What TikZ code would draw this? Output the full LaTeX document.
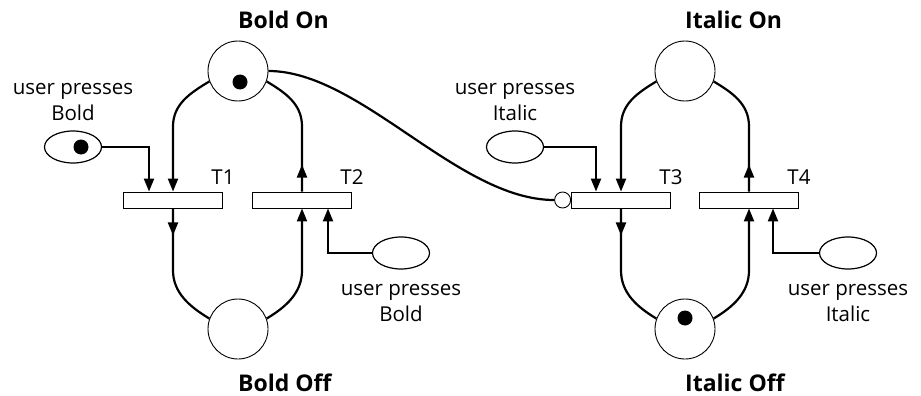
\documentclass[tikz,border=0pt]{standalone}
\usepackage{fontspec}
\setmainfont{Open Sans}
\usepackage{tikz}
\usetikzlibrary{arrows.meta,positioning,shapes.geometric,decorations.markings}

\begin{document}
\begin{tikzpicture}[x=1pt,y=-1pt,
  font=\fontsize{20.5}{26}\selectfont,
  place/.style={circle,draw,line width=0.9pt,minimum size=60pt,inner sep=0pt},
  trans/.style={rectangle,draw,line width=0.9pt,minimum width=99pt,minimum height=16pt,inner sep=0pt},
  event/.style={ellipse,draw,line width=1.2pt,minimum width=57pt,minimum height=32pt,inner sep=0pt},
  inhib/.style={circle,draw,fill=white,line width=0.9pt,minimum size=16pt,inner sep=0pt},
  arc/.style={line width=2.2pt},
  inarc/.style={arc,-{Triangle[length=13pt,width=10pt]}},
  outarc/.style={arc,postaction={decorate},decoration={markings,
    mark=at position 27pt with {\arrow{Triangle[length=13pt,width=10pt]}}}},
  plabel/.style={font=\fontsize{23}{26}\selectfont\bfseries,inner sep=0pt,anchor=west},
  tlabel/.style={inner sep=0pt,anchor=base},
  ulabel/.style={align=center,inner sep=0pt}]

\useasboundingbox (0,0) rectangle (921,396);

\node[place] (bon) at (238,71) {};
\node[place] (boff) at (238,329) {};
\node[place] (ion) at (685,71) {};
\node[place] (ioff) at (685,329) {};

\node[trans] (t1) at (173,200) {};
\node[trans] (t2) at (302,200) {};
\node[trans] (t3) at (621,200) {};
\node[trans] (t4) at (749,200) {};
\node[inhib, left=0pt of t3] (inh) {};

\node[event] (eb1) at (73,147) {};
\node[event] (eb2) at (401,253) {};
\node[event] (ei1) at (515,147) {};
\node[event] (ei2) at (848,253) {};

\fill ([shift={(2,11)}]bon.center) circle (7.5pt);
\fill ([shift={(0,-11)}]ioff.center) circle (7.5pt);
\fill ([xshift=8pt]eb1.center) circle (7.5pt);

\node[plabel] at ([yshift=21pt]bon.north) {Bold On};
\node[plabel] at ([yshift=-23pt]boff.south) {Bold Off};
\node[plabel] at ([yshift=21pt]ion.north) {Italic On};
\node[plabel] at ([yshift=-23pt]ioff.south) {Italic Off};

\node[tlabel] at ([yshift=7pt]t1.north east) {T1};
\node[tlabel] at ([yshift=7pt]t2.north east) {T2};
\node[tlabel] at ([yshift=7pt]t3.north east) {T3};
\node[tlabel] at ([yshift=7pt]t4.north east) {T4};

\node[ulabel] at ([yshift=45pt]eb1.center) {user presses\\Bold};
\node[ulabel] at ([yshift=-50pt]eb2.center) {user presses\\Bold};
\node[ulabel] at ([yshift=45pt]ei1.center) {user presses\\Italic};
\node[ulabel] at ([yshift=-50pt]ei2.center) {user presses\\Italic};

\draw[inarc] (bon.200) .. controls +(-20,12) and +(0,-22) .. ([yshift=65pt]t1.north) -- (t1.north);
\draw[outarc] (t2.north) -- ([yshift=65pt]t2.north) .. controls +(0,-22) and +(20,12) .. (bon.-20);
\draw[outarc] (t1.south) -- ([yshift=-62pt]t1.south) .. controls +(0,22) and +(-20,-12) .. (boff.160);
\draw[inarc] (boff.20) .. controls +(20,-12) and +(0,22) .. ([yshift=-62pt]t2.south) -- (t2.south);

\draw[inarc] (ion.200) .. controls +(-20,12) and +(0,-22) .. ([yshift=65pt]t3.north) -- (t3.north);
\draw[outarc] (t4.north) -- ([yshift=65pt]t4.north) .. controls +(0,-22) and +(20,12) .. (ion.-20);
\draw[outarc] (t3.south) -- ([yshift=-62pt]t3.south) .. controls +(0,22) and +(-20,-12) .. (ioff.160);
\draw[inarc] (ioff.20) .. controls +(20,-12) and +(0,22) .. ([yshift=-62pt]t4.south) -- (t4.south);

\draw[inarc] (eb1.east) -| ([xshift=-24pt]t1.north);
\draw[inarc] (eb2.west) -| ([xshift=26pt]t2.south);
\draw[inarc] (ei1.east) -| ([xshift=-25pt]t3.north);
\draw[inarc] (ei2.west) -| ([xshift=24pt]t4.south);

\draw[arc] (bon.east) .. controls +(92,0) and +(-96,0) .. (inh.west);

\end{tikzpicture}
\end{document}
